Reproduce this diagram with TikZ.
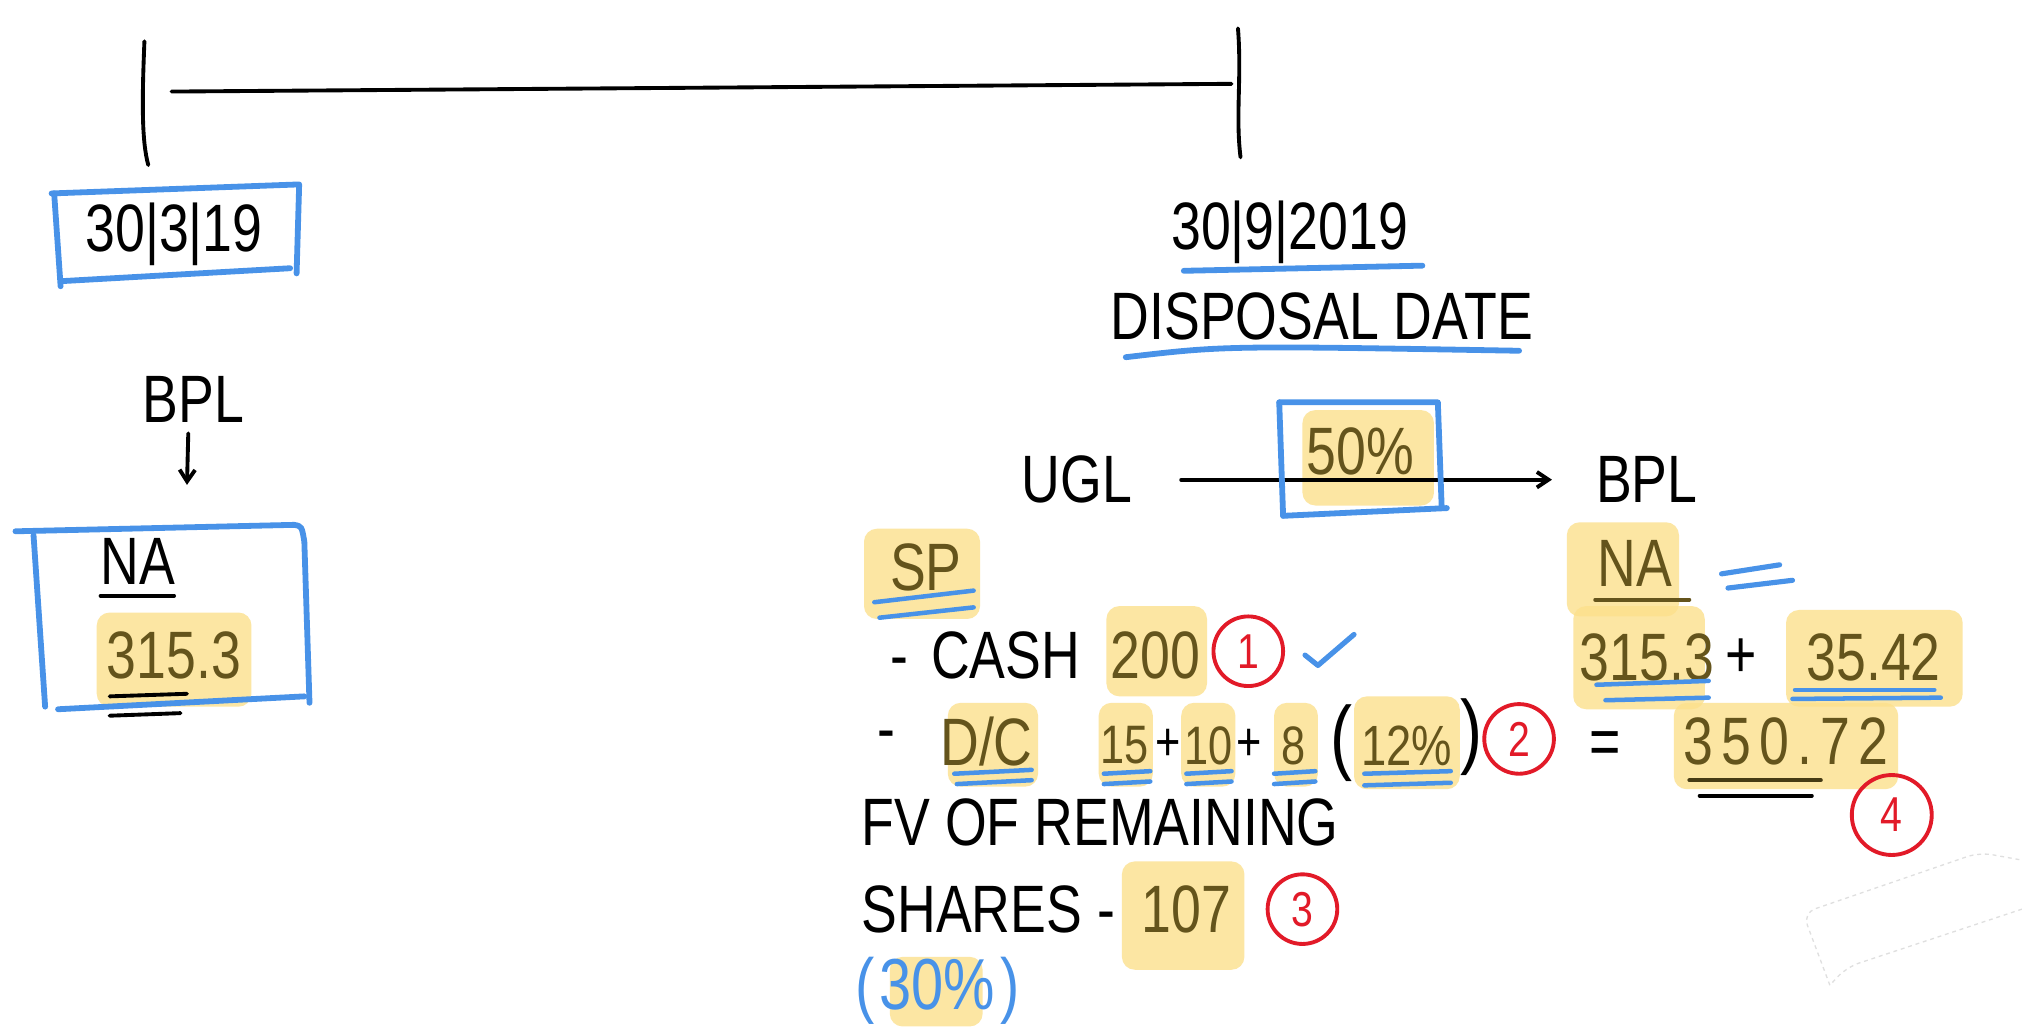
\documentclass[tikz,border=0pt]{standalone}
\usepackage{fontspec}
\setmainfont[FakeStretch=0.8]{Liberation Sans}
\usetikzlibrary{arrows.meta}
\definecolor{hlY}{RGB}{252,224,140}
\definecolor{inkB}{RGB}{100,84,28}
\definecolor{penBlue}{RGB}{72,146,232}
\definecolor{penRed}{RGB}{226,26,40}
\begin{document}
\begin{tikzpicture}[x=1pt,y=-1pt,
  every node/.style={font=\fontsize{52}{52}\selectfont, inner sep=0pt},
  rowfont/.style={font=\fontsize{42}{42}\selectfont},
  ink/.style={line width=3pt, line cap=round, line join=round},
  bluepen/.style={draw=penBlue, line width=4.5pt, line cap=round, line join=round},
  hl/.style={fill=hlY, opacity=0.8, rounded corners=10pt},
  hltext/.style={text=inkB},
  redcirc/.style={draw=penRed, line width=3pt, circle, minimum size=54pt, text=penRed, font=\fontsize{38}{38}\selectfont},
  barb/.style={-{Straight Barb[length=9pt,width=12pt,line width=3pt]}}
]
\useasboundingbox (0,0) rectangle (1568,796);
\fill[white] (0,0) rectangle (1568,796);

% ---------- highlights (behind) ----------
\fill[hl] (75,475) rectangle (195,548);
\fill[hl] (1010,318) rectangle (1112,392);
\fill[hl] (670,410) rectangle (760,480);
\fill[hl] (858,470) rectangle (936,540);
\fill[hl] (735,545) rectangle (805,610);
\fill[hl] (852,545) rectangle (894,610);
\fill[hl] (916,545) rectangle (958,610);
\fill[hl] (988,545) rectangle (1022,610);
\fill[hl] (1050,540) rectangle (1132,612);
\fill[hl] (870,668) rectangle (965,752);
\fill[hl] (690,742) rectangle (762,796);
\fill[hl] (1215,405) rectangle (1302,478);
\fill[hl] (1220,470) rectangle (1322,550);
\fill[hl] (1385,473) rectangle (1522,548);
\fill[hl] (1298,545) rectangle (1472,612);

% ---------- timeline ----------
\coordinate (tlA) at (112,32);
\coordinate (tlB) at (115,128);
\coordinate (tlC) at (133,71);
\coordinate (tlD) at (955,65);
\coordinate (tlE) at (960,22);
\coordinate (tlF) at (962,122);
\draw[ink] (tlA) .. controls (110,80) and (110,110) .. (tlB);
\draw[ink] (tlC) -- (tlD);
\draw[ink] (tlE) .. controls (963,60) and (958,90) .. (tlF);

% ---------- left column ----------
\node (dateL) at (135,182) {30|3|19};
\draw[bluepen] (40,150) -- (232,143) -- (230,212);
\draw[bluepen] (225,208) -- (48,218);
\draw[bluepen] (42,150) -- (47,222);

\node (bplL) at (150,310) {BPL};
\coordinate (arrL) at (145,376);
\draw[ink,barb] (bplL.south) ++(-4,8) coordinate (arrS) (arrS) -- (arrL);

\draw[bluepen] (12,412) -- (228,407) .. controls (234,408) .. (236,420) -- (240,545);
\draw[bluepen] (236,540) -- (45,550);
\draw[bluepen] (26,415) -- (35,548);
\node (naL) at (107,435) {NA};
\draw[ink] (78,462) -- (135,462);
\node[hltext] (v315L) at (135,508) {315.3};
\draw[ink] (85,540) -- (145,538);
\draw[ink] (85,555) -- (140,553);

% ---------- right column: header ----------
\node (dateR) at (1000,180) {30|9|2019};
\draw[bluepen] (918,210) -- (1103,206);
\node (disp) at (1025,245) {DISPOSAL DATE};
\draw[bluepen] (873,277) .. controls (950,268) .. (1178,272);

\node (ugl) at (835,372) {UGL};
\node (bplR) at (1277,372) {BPL};
\draw[ink,barb,shorten <=38pt,shorten >=34pt] (ugl.east) -- (bplR.west);
\node[hltext] (pct50) at (1055,350) {50\%};
\draw[bluepen] (992,312) -- (1115,312) -- (1118,394);
\draw[bluepen] (1122,394) -- (995,400);
\draw[bluepen] (992,312) -- (995,400);

% ---------- SP block ----------
\node[hltext] (sp) at (718,440) {SP};
\draw[bluepen,line width=3.5pt] (678,467) -- (755,458);
\draw[bluepen,line width=3.5pt] (682,479) -- (755,471);

\node[anchor=west] (cash) at (690,508) {-\hspace{18pt}CASH};
\node[hltext] (v200) at (896,508) {200};
\node[redcirc] (c1) at (968,505) {1};
\draw[bluepen,line width=4pt] (1012,508) -- (1022,516) -- (1050,492);

\node[anchor=west] (dcdash) at (680,575) {-};
\node[hltext] (dc) at (765,575) {D/C};
\draw[bluepen,line width=3.5pt] (740,600) -- (800,597);
\draw[bluepen,line width=3.5pt] (742,608) -- (800,605);
\node[hltext,rowfont] (v15) at (872,578) {15};
\node[rowfont] (p1) at (906,578) {+};
\node[hltext,rowfont] (v10) at (937,578) {10};
\node[rowfont] (p2) at (969,578) {+};
\node[hltext,rowfont] (v8) at (1003,578) {8};
\draw[bluepen,line width=3.5pt] (856,600) -- (892,598);
\draw[bluepen,line width=3.5pt] (856,608) -- (892,606);
\draw[bluepen,line width=3.5pt] (920,600) -- (955,598);
\draw[bluepen,line width=3.5pt] (920,608) -- (955,606);
\draw[bluepen,line width=3.5pt] (988,600) -- (1020,598);
\draw[bluepen,line width=3.5pt] (988,608) -- (1020,606);
\node[font=\fontsize{64}{64}\selectfont] (lp) at (1040,576) {(};
\node[hltext,font=\fontsize{44}{44}\selectfont] (v12) at (1091,578) {12\%};
\node[font=\fontsize{64}{64}\selectfont] (rp) at (1141,572) {)};
\draw[bluepen,line width=3.5pt] (1058,600) -- (1125,598);
\draw[bluepen,line width=3.5pt] (1058,609) -- (1125,607);
\node[redcirc] (c2) at (1178,573) {2};

\node[anchor=west] (fv) at (668,638) {FV OF REMAINING};
\node[anchor=west] (shares) at (668,705) {SHARES -};
\node[hltext] (v107) at (920,705) {107};
\node[redcirc] (c3) at (1010,705) {3};
\node[text=penBlue,font=\fontsize{56}{56}\selectfont] (v30) at (727,768) {(\hspace{4pt}30\%\hspace{4pt})};

% ---------- right column: NA ----------
\node[hltext] (naR) at (1268,437) {NA};
\draw[ink,draw=inkB] (1237,465) -- (1310,465);
\draw[bluepen,line width=4pt] (1335,445) -- (1380,438);
\draw[bluepen,line width=4pt] (1340,456) -- (1390,450);

\node[hltext] (v315R) at (1277,510) {315.3};
\node (p3) at (1350,510) {+};
\node[hltext] (v3542) at (1453,510) {35.42};
\draw[bluepen,line width=3.5pt] (1238,531) -- (1325,528);
\draw[bluepen,line width=3.5pt] (1245,543) -- (1325,541);
\draw[bluepen,line width=3.5pt] (1392,535) -- (1500,535);
\draw[bluepen,line width=3.5pt] (1390,542) -- (1505,541);

\node (eq) at (1245,580) {=};
\node[hltext,font=\fontsize{52}{52}\selectfont\addfontfeature{LetterSpace=12}] (v35072) at (1385,575) {350.72};
\draw[ink,draw=inkB!70!black] (1310,605) -- (1412,605);
\draw[ink] (1318,617) -- (1405,617);
\node[redcirc,minimum size=62pt] (c4) at (1467,632) {4};

% ---------- faint eraser ghost ----------
\draw[gray!25,dashed,line width=1pt,rounded corners=10pt]
  (1419,764) -- (1398,708) -- (1535,661) -- (1568,667);
\draw[gray!25,dashed,line width=1pt,rounded corners=10pt]
  (1568,705) -- (1432,750) -- (1419,764);
\end{tikzpicture}
\end{document}
